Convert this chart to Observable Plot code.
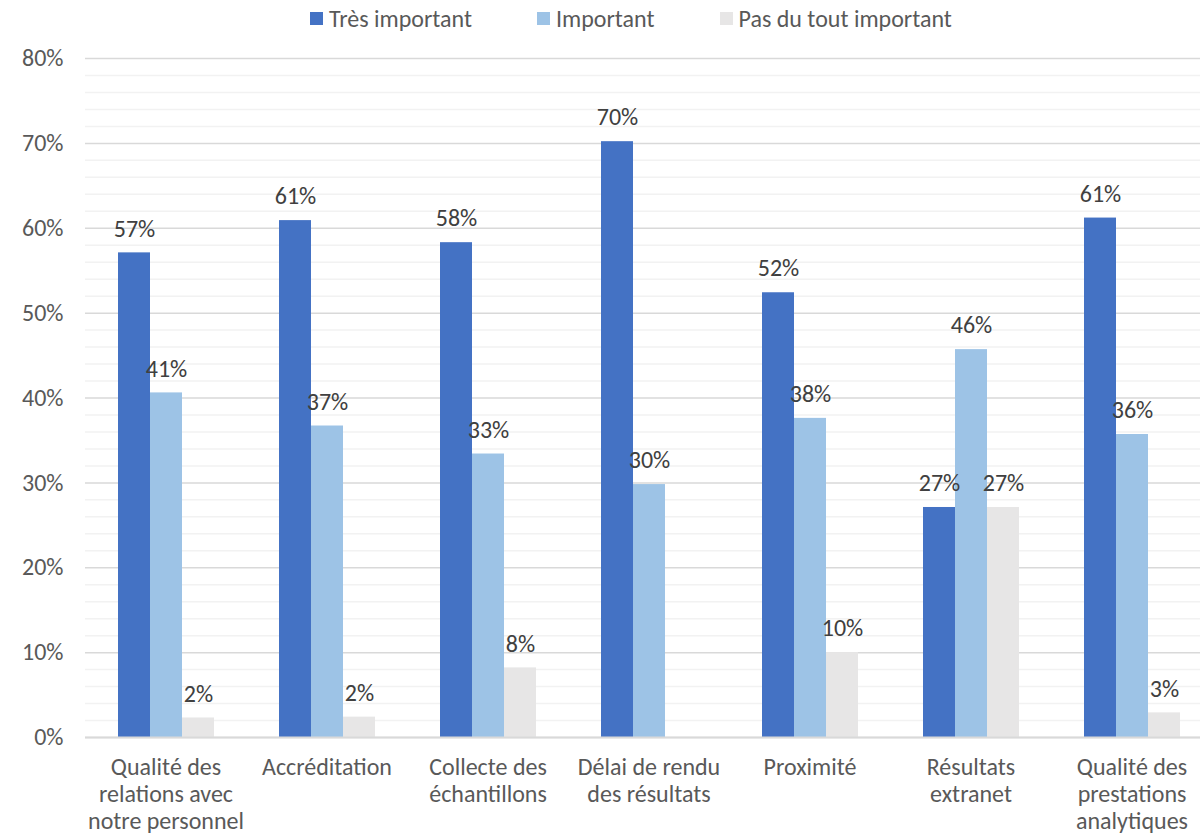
<!DOCTYPE html>
<html><head><meta charset="utf-8">
<script src="https://cdn.jsdelivr.net/npm/d3@7"></script>
<script src="https://cdn.jsdelivr.net/npm/@observablehq/plot@0.6"></script>
<style>
body{margin:0;background:#fff;overflow:hidden;}
#wrap{position:relative;width:1200px;height:839px;overflow:hidden;font-family:Carlito,Calibri,Lato,sans-serif;}
#legend{position:absolute;top:4px;left:310px;display:flex;gap:65px;font-size:24px;color:#595959;white-space:nowrap}
.item{display:flex;align-items:center;gap:6px}
.sw{width:13px;height:13px;display:inline-block}
#chart{position:absolute;top:0;left:0}
#chart svg{max-width:none !important}
</style></head><body>
<div id="wrap"><div id="chart"></div><div id="legend"></div></div>
<script>
const categories = ["Qualité des relations avec notre personnel","Accréditation","Collecte des échantillons","Délai de rendu des résultats","Proximité","Résultats extranet","Qualité des prestations analytiques"];
const categoryLabels = ["Qualité des\nrelations avec\nnotre personnel","Accréditation","Collecte des\néchantillons","Délai de rendu\ndes résultats","Proximité","Résultats\nextranet","Qualité des\nprestations\nanalytiques"];
const series = ["Très important","Important","Pas du tout important"];
const tresImportant = [57.1,60.9,58.3,70.2,52.4,27.1,61.2];
const important = [40.6,36.7,33.4,29.8,37.6,45.7,35.7];
const pasDuTout = [2.3,2.4,8.2,0,10.0,27.1,2.9];
const colors = ["#4472C4","#9DC3E6","#E7E6E6"];
const yTicks = [0,10,20,30,40,50,60,70,80];
const minorTicks = [2,4,6,8,12,14,16,18,22,24,26,28,32,34,36,38,42,44,46,48,52,54,56,58,62,64,66,68,72,74,76,78];

const values = [tresImportant, important, pasDuTout];
const data = categories.flatMap((c,i)=>series.map((s,j)=>({category:c, series:s, value:values[j][i]})));
const labelOf = Object.fromEntries(categories.map((c,i)=>[c,categoryLabels[i]]));
const font = "Carlito, Calibri, Lato, sans-serif";

const chart = Plot.plot({
  width:1213, height:839, marginTop:58, marginBottom:102, marginLeft:84, marginRight:0,
  style:{fontFamily:font, fontSize:"24px", background:"#fff", maxWidth:"none"},
  fx:{domain:categories, padding:0, label:null},
  x:{domain:series, paddingInner:0, paddingOuter:1, axis:null},
  y:{domain:[0,80], axis:null},
  color:{domain:series, range:colors},
  marks:[
    Plot.ruleY(minorTicks, {stroke:"#F2F2F2", strokeWidth:1.5}),
    Plot.ruleY(yTicks, {stroke:"#D9D9D9", strokeWidth:1.5}),
    Plot.barY(data, {fx:"category", x:"series", y:"value", fill:"series"}),
    Plot.ruleY([0], {stroke:"#D9D9D9", strokeWidth:2}),
    Plot.text(data.filter(d=>d.value>0), {fx:"category", x:"series", y:"value", text:d=>Math.round(d.value)+"%", dy:-24, fill:"#404040", fontSize:24}),
    Plot.axisY(yTicks, {anchor:"left", tickFormat:d=>d+"%", tickSize:0, tickPadding:22, fill:"#595959", fontSize:24, label:null}),
    Plot.axisFx({anchor:"bottom", tickFormat:d=>labelOf[d], tickSize:0, tickPadding:18, lineAnchor:"top", lineHeight:1.125, fill:"#595959", fontSize:24, label:null})
  ]
});
chart.style.maxWidth = "none";
document.getElementById("chart").appendChild(chart);

const legend = document.getElementById("legend");
series.forEach((s,i)=>{
  const it = document.createElement("div"); it.className="item";
  const sw = document.createElement("span"); sw.className="sw"; sw.style.background=colors[i];
  const t = document.createElement("span"); t.textContent=s;
  it.appendChild(sw); it.appendChild(t); legend.appendChild(it);
});
</script>
</body></html>
